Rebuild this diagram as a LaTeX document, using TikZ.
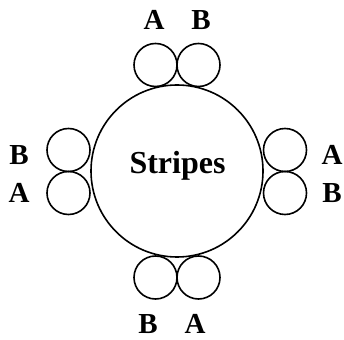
\documentclass[tikz,border=0pt]{standalone}
\usepackage{fontspec}
\setmainfont{Liberation Serif}
\begin{document}
\begin{tikzpicture}[x=1pt, y=1pt, line width=1.6pt,
    roll/.style={draw, circle, minimum size=43pt, inner sep=0pt},
    lbl/.style={anchor=base, font=\fontsize{29}{29}\selectfont\bfseries}]
            \useasboundingbox (0, 0) rectangle (344, 339);

            \coordinate (M) at (177, 168);
            \node[draw, circle, minimum size=172pt, inner sep=0pt] (S) at (M) {};
            \node[lbl, font=\fontsize{32}{32}\selectfont\bfseries] at (177.5, 165.5) {Stripes};

            \node[roll] (T1) at (155.5, 274) {};
            \node[roll] (T2) at (198.5, 274) {};
            \node[roll] (D1) at (155.5, 61.5) {};
            \node[roll] (D2) at (198.5, 61.5) {};
            \node[roll] (L1) at (68.5, 189) {};
            \node[roll] (L2) at (68.5, 146) {};
            \node[roll] (R1) at (285, 189) {};
            \node[roll] (R2) at (285, 146) {};

            \node[lbl] at (154, 309) {A};
            \node[lbl] at (201, 309) {B};
            \node[lbl] at (19, 174) {B};
            \node[lbl] at (19, 136) {A};
            \node[lbl] at (332, 174) {A};
            \node[lbl] at (332, 136) {B};
            \node[lbl] at (148, 6) {B};
            \node[lbl] at (195, 6) {A};
        \end{tikzpicture}
\end{document}
